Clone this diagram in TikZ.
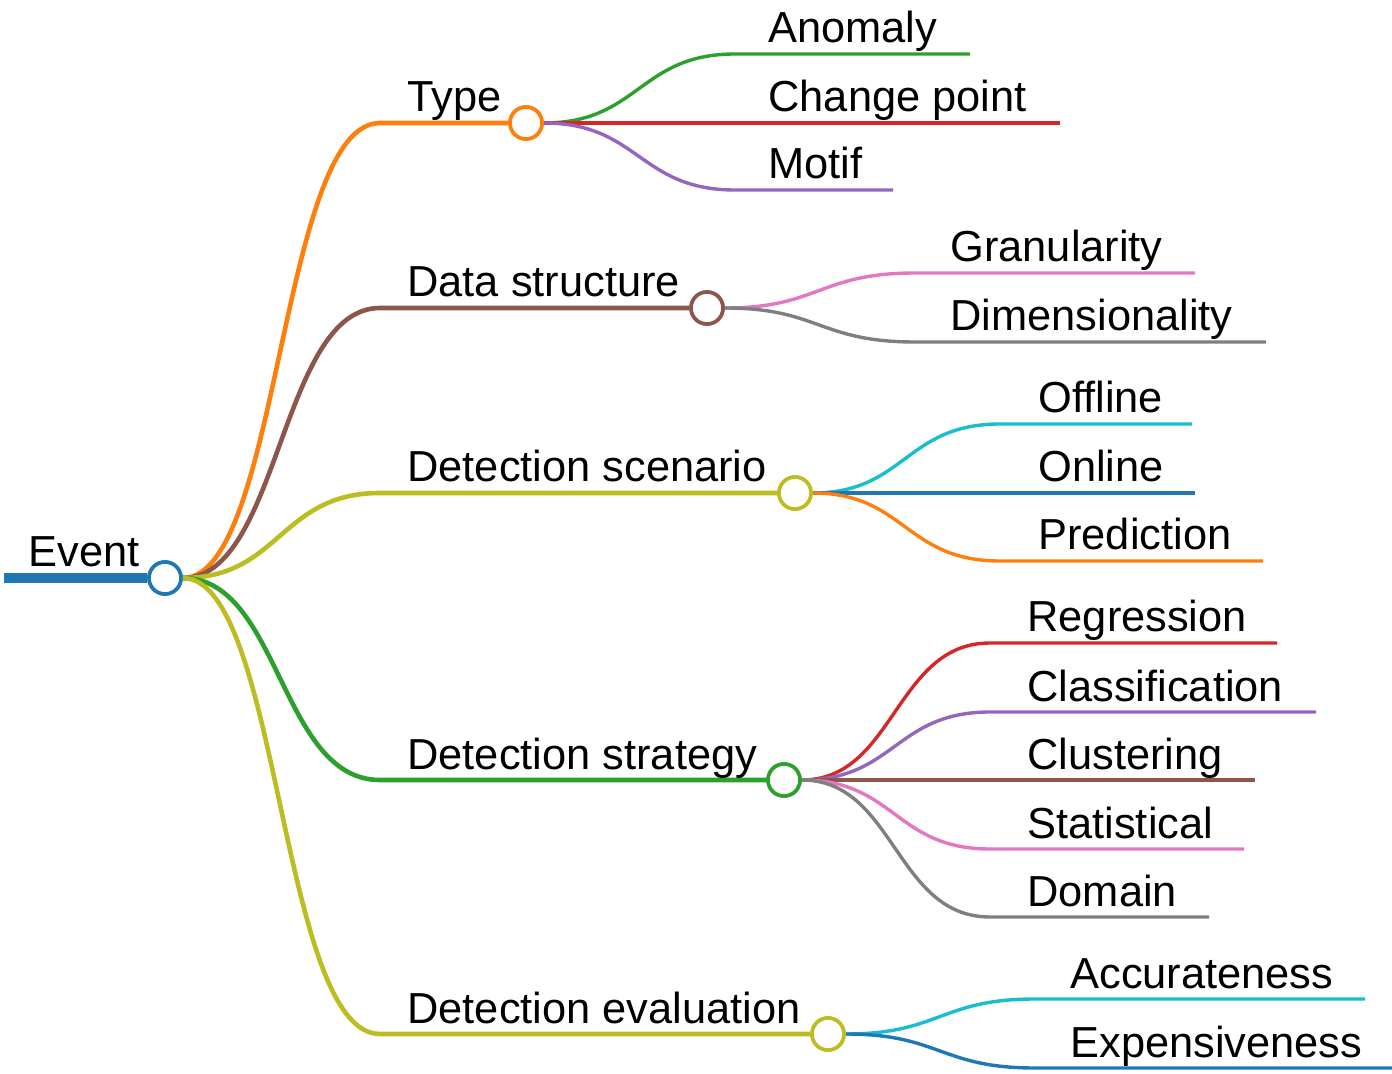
\documentclass[tikz,border=0pt]{standalone}
\usepackage{fontspec}
\setmainfont{Liberation Sans}
\definecolor{cBlue}{HTML}{1F77B4}
\definecolor{cOrange}{HTML}{FF7F0E}
\definecolor{cGreen}{HTML}{2CA02C}
\definecolor{cRed}{HTML}{D62728}
\definecolor{cPurple}{HTML}{9467BD}
\definecolor{cBrown}{HTML}{8C564B}
\definecolor{cPink}{HTML}{E377C2}
\definecolor{cGray}{HTML}{7F7F7F}
\definecolor{cOlive}{HTML}{BCBD22}
\definecolor{cCyan}{HTML}{17BECF}
\begin{document}
\begin{tikzpicture}[x=0.5pt,y=-0.5pt,
  lvlone/.style={line width=2.3pt},
  lvltwo/.style={line width=1.7pt},
  hub/.style={circle, draw, fill=white, line width=1.8pt, minimum size=16pt, inner sep=0pt},
  lbl/.style={anchor=base west, inner sep=0pt, font=\fontsize{21.7}{26}\selectfont}]
\useasboundingbox (0,0) rectangle (1392,1074);

% hubs (placed first so edges can reference them; redrawn on top at the end)
\node[hub, draw=cBlue]   (event)    at (165,578) {};
\node[hub, draw=cOrange] (type)     at (526,123) {};
\node[hub, draw=cBrown]  (data)     at (707,308) {};
\node[hub, draw=cOlive]  (scen)     at (795,493) {};
\node[hub, draw=cGreen]  (strat)    at (784,780) {};
\node[hub, draw=cOlive]  (eval)     at (828,1034) {};

% root stem
\coordinate (stem) at (4,578);
\draw[cBlue, line width=5pt] (stem) -- (event.west);

% first-level branches
\coordinate (typeA)  at (380,123);
\coordinate (dataA)  at (380,308);
\coordinate (scenA)  at (380,493);
\coordinate (stratA) at (380,780);
\coordinate (evalA)  at (380,1034);
\draw[cOrange, lvlone] (event.east) .. controls (280,578) and (280,123) .. (typeA) -- (type.west);
\draw[cBrown,  lvlone] (event.east) .. controls (280,578) and (280,308) .. (dataA) -- (data.west);
\draw[cOlive,  lvlone] (event.east) .. controls (280,578) and (280,493) .. (scenA) -- (scen.west);
\draw[cGreen,  lvlone] (event.east) .. controls (280,578) and (280,780) .. (stratA) -- (strat.west);
\draw[cOlive,  lvlone] (event.east) .. controls (280,578) and (280,1034) .. (evalA) -- (eval.west);

% Type children
\coordinate (anoA) at (735,54);  \coordinate (anoB) at (970,54);
\coordinate (cpB)  at (1060,123);
\coordinate (motA) at (735,190); \coordinate (motB) at (893,190);
\draw[cGreen,  lvltwo] (type.east) .. controls (639,123) and (639,54) .. (anoA) -- (anoB);
\draw[cRed,    lvltwo] (type.east) -- (cpB);
\draw[cPurple, lvltwo] (type.east) .. controls (639,123) and (639,190) .. (motA) -- (motB);

% Data structure children
\coordinate (graA) at (915,273); \coordinate (graB) at (1195,273);
\coordinate (dimA) at (915,342); \coordinate (dimB) at (1266,342);
\draw[cPink, lvltwo] (data.east) .. controls (819,308) and (819,273) .. (graA) -- (graB);
\draw[cGray, lvltwo] (data.east) .. controls (819,308) and (819,342) .. (dimA) -- (dimB);

% Detection scenario children
\coordinate (offA) at (1000,424); \coordinate (offB) at (1192,424);
\coordinate (onB)  at (1195,493);
\coordinate (preA) at (1000,561); \coordinate (preB) at (1263,561);
\draw[cCyan,   lvltwo] (scen.east) .. controls (905,493) and (905,424) .. (offA) -- (offB);
\draw[cBlue,   lvltwo] (scen.east) -- (onB);
\draw[cOrange, lvltwo] (scen.east) .. controls (905,493) and (905,561) .. (preA) -- (preB);

% Detection strategy children
\coordinate (regA) at (990,643); \coordinate (regB) at (1277,643);
\coordinate (claA) at (990,712); \coordinate (claB) at (1316,712);
\coordinate (cluB) at (1255,780);
\coordinate (staA) at (990,849); \coordinate (staB) at (1244,849);
\coordinate (domA) at (990,917); \coordinate (domB) at (1209,917);
\draw[cRed,    lvltwo] (strat.east) .. controls (895,780) and (895,643) .. (regA) -- (regB);
\draw[cPurple, lvltwo] (strat.east) .. controls (895,780) and (895,712) .. (claA) -- (claB);
\draw[cBrown,  lvltwo] (strat.east) -- (cluB);
\draw[cPink,   lvltwo] (strat.east) .. controls (895,780) and (895,849) .. (staA) -- (staB);
\draw[cGray,   lvltwo] (strat.east) .. controls (895,780) and (895,917) .. (domA) -- (domB);

% Detection evaluation children
\coordinate (accA) at (1035,999);  \coordinate (accB) at (1365,999);
\coordinate (expA) at (1035,1068); \coordinate (expB) at (1392,1068);
\draw[cCyan, lvltwo] (eval.east) .. controls (940,1034) and (940,999) .. (accA) -- (accB);
\draw[cBlue, lvltwo] (eval.east) .. controls (940,1034) and (940,1068) .. (expA) -- (expB);

% hubs on top of the edges
\node[hub, draw=cBlue]   at (event) {};
\node[hub, draw=cOrange] at (type) {};
\node[hub, draw=cBrown]  at (data) {};
\node[hub, draw=cOlive]  at (scen) {};
\node[hub, draw=cGreen]  at (strat) {};
\node[hub, draw=cOlive]  at (eval) {};

% labels
\node[lbl] (lEvent) at (28,567)  {Event};
\node[lbl] (lType)  at (407,112) {Type};
\node[lbl] (lData)  at (407,297) {Data structure};
\node[lbl] (lScen)  at (407,482) {Detection scenario};
\node[lbl] (lStrat) at (407,769) {Detection strategy};
\node[lbl] (lEval)  at (407,1023) {Detection evaluation};

\node[lbl] (lAno) at (768,43)  {Anomaly};
\node[lbl] (lCp)  at (768,112) {Change point};
\node[lbl] (lMot) at (768,179) {Motif};
\node[lbl] (lGra) at (950,262) {Granularity};
\node[lbl] (lDim) at (950,331) {Dimensionality};
\node[lbl] (lOff) at (1038,413) {Offline};
\node[lbl] (lOn)  at (1038,482) {Online};
\node[lbl] (lPre) at (1038,550) {Prediction};
\node[lbl] (lReg) at (1027,632) {Regression};
\node[lbl] (lCla) at (1027,701) {Classification};
\node[lbl] (lClu) at (1027,769) {Clustering};
\node[lbl] (lSta) at (1027,838) {Statistical};
\node[lbl] (lDom) at (1027,906) {Domain};
\node[lbl] (lAcc) at (1070,988) {Accurateness};
\node[lbl] (lExp) at (1070,1057) {Expensiveness};
\end{tikzpicture}
\end{document}
